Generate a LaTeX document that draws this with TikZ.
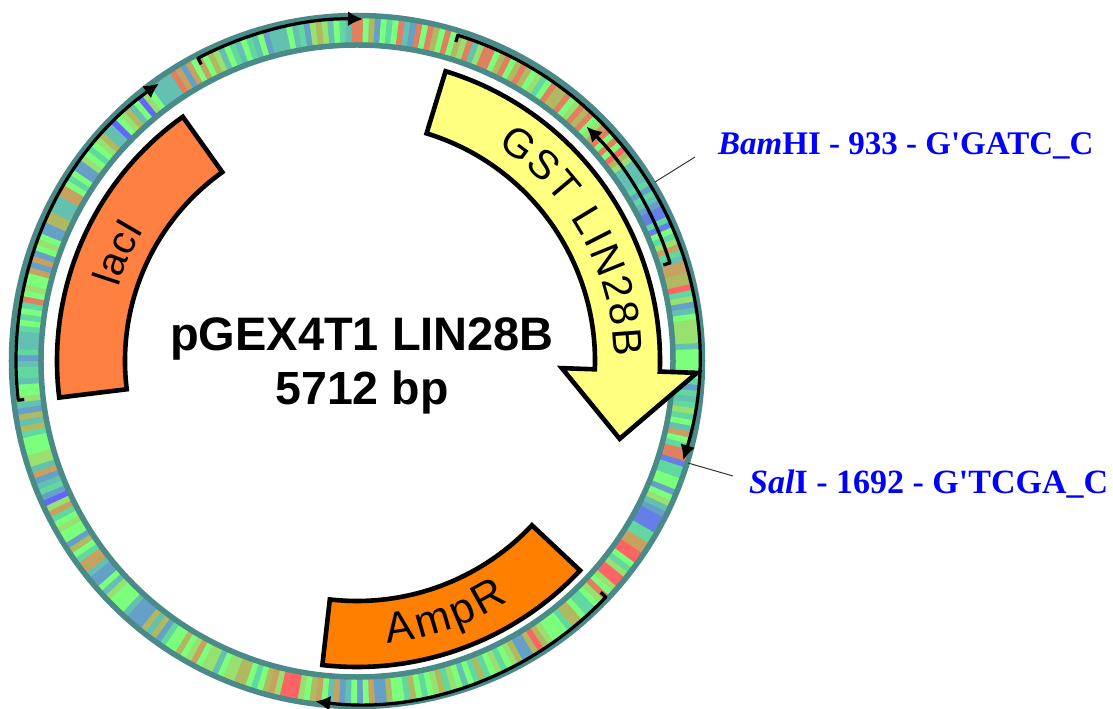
\documentclass[tikz,border=0pt]{standalone}
\usepackage{fontspec}
\setmainfont{Liberation Sans}
\newfontfamily\labelfont{Liberation Serif}
\usetikzlibrary{decorations.text,arrows.meta}
\definecolor{colg}{HTML}{7CFF7C}
\definecolor{colm}{HTML}{60D8A0}
\definecolor{colt}{HTML}{64C0B0}
\definecolor{coll}{HTML}{98E070}
\definecolor{colo}{HTML}{B0B860}
\definecolor{coln}{HTML}{C8A060}
\definecolor{colb}{HTML}{64A0C8}
\definecolor{colp}{HTML}{6480E8}
\definecolor{colv}{HTML}{6464FF}
\definecolor{colr}{HTML}{FF6464}
\definecolor{cols}{HTML}{E08060}
\definecolor{ringteal}{HTML}{4A8A88}
\definecolor{gstfill}{HTML}{FFFF80}
\definecolor{laci}{HTML}{FF8040}
\definecolor{ampr}{HTML}{FF8000}
\definecolor{siteblue}{HTML}{0000FF}
\newcommand\ringseg[2]{\foreach \sc [count=\ii from 0] in {#2}{%
  \pgfmathsetmacro\angA{#1-\ii}\pgfmathsetmacro\angB{#1-\ii-1.08}%
  \fill[col\sc] (\angA:315) -- (\angA:347) -- (\angB:347) -- (\angB:315) -- cycle;}}
\newcommand\featarc[4]{% radius, from, to, tail tick
  \draw[featline] (#2:#1) arc[start angle=#2,end angle=#3,radius=#1];
  \draw[tailtick] (#2:#1+1) -- (#2:#1-#4);}
\tikzset{
  x=1pt,y=1pt,
  ringedge/.style={draw=ringteal,line width=5.5pt},
  gene/.style={draw=black,line width=4.6pt,line join=miter,miter limit=4},
  featline/.style={black,line width=3.2pt,-{Latex[length=15pt,width=15pt]}},
  tailtick/.style={black,line width=3.2pt},
  leader/.style={black!80,line width=1pt},
  site/.style={anchor=base west,inner sep=0pt,text=siteblue,font=\labelfont\bfseries\fontsize{33}{33}\selectfont},
  sitewide/.style={site,font=\labelfont\bfseries\fontsize{34}{34}\selectfont},
  title/.style={anchor=base,inner sep=0pt,font=\bfseries\fontsize{46.5}{46.5}\selectfont},
  titlewide/.style={title,font=\bfseries\fontsize{47}{47}\selectfont},
}
\begin{document}
\begin{tikzpicture}
\useasboundingbox (-357,-348) rectangle (756,361);
\fill[colm] (0,0) circle[radius=347];
\fill[white] (0,0) circle[radius=315];
\ringseg{90}{s,g,o,b,g,m,g,s,t,b,s,g,s,o,g,s,g,o}
\ringseg{73}{o,l,s,t,l,s,s,g,o,s,g,o,s,o,g,l,m,g,s,o,o,s,g,l,s,o,s,g}
\ringseg{45}{l,n,s,g,s,g,r,o,l,t,t,t,t,m,b,m,t,b,p,p,m,p,g,m,l,n,m,t,n,n,o,o,r,m,l,b,t,g,l,l,l,l,t,g,g}
\ringseg{0}{g,g,g,m,b,m,t,m,l,m,g,t,n,g,m,s}
\ringseg{-16}{s,p,m,m,g,g,b,g,l,t,b,p,p,p,m,m,n,n,r,r,g,m,l,r,r,l,g,s}
\ringseg{-43}{s,l,g,m,m,g,o,o,m,g,g,g,l,o,r,o,b,b,o,l,g,m,l,g,m,o,m,g,t,g,l,m,o,l,g,m,g,o,m,g,g,o,b,b,n,g,b,g,t,b,n,t,g,n,o,g,l,r}
\ringseg{-100}{r,r,r,l,n,o,g,m,g,o,o,l,l,g,t,l,l,g,n,l,g,o,g,g,m,b,o,t,o,b,b,b,t,g,g,g,l,t,g,b,b,t,n,n,m,g,o,b,g,g,l,g,m,n,l,v,b,m,t,b,n,t,l,l,g,g,g,m,o,t,o,b,t,l,g,m}
\ringseg{185}{g,t,m,m,t,b,m,t,t,t,m,g,m,g,m,s,g,l,g,g,n,b,n,b,g,l,g,b,b,o,o,t,t,t,n,n,g,m,g,b,b,l,g,m,g,l,o,t,t,v,g,l,o,t,g,v,l,g}
\ringseg{127}{t,t,t,t,s,n,b,n,g,n,g,o,l,t,g,m,t,g,m,t,g,b,t,t,t,g,t,m,b,l,o,l,t,g,m,t,s}
\draw[ringedge] (0,0) circle[radius=345.5];
\draw[ringedge] (0,0) circle[radius=316];
% restriction sites
\coordinate (bamsite) at (298,179);
\coordinate (bamend) at (338,204);
\coordinate (salsite) at (331,-102);
\coordinate (salend) at (376,-115);
\draw[leader] (bamsite) -- (bamend);
\draw[leader] (salsite) -- (salend);
\node[site] (bamlabel) at (361,206) {\textit{Bam}HI - 933 - G'GATC\_C};
\node[sitewide] (sallabel) at (392,-132) {\textit{Sal}I - 1692 - G'TCGA\_C};
% features
\featarc{341}{186.6}{125.5}{6}
\featarc{342}{117.7}{89}{7}
\featarc{328}{17.4}{45.6}{7}
\featarc{341}{72.8}{-16.9}{7}
\featarc{343}{-43.5}{-97}{7}
% genes
\draw[gene,fill=gstfill] (73:238) arc[start angle=73,end angle=-2,radius=238] -- (-2:205) -- (-16.5:274) -- (-2:340) -- (-2:303) arc[start angle=-2,end angle=73,radius=303] -- cycle;
\draw[gene,fill=laci] (125.5:232) arc[start angle=125.5,end angle=187,radius=232] -- (187:300) arc[start angle=187,end angle=125.5,radius=300] -- cycle;
\draw[gene,fill=ampr] (-43.2:240) arc[start angle=-43.2,end angle=-96.5,radius=240] -- (-96.5:306) arc[start angle=-96.5,end angle=-43.2,radius=306] -- cycle;
\path[decorate,decoration={text along path,text align={fit to path},text={|\fontsize{41}{41}\selectfont|GST LIN28B}}] (57:257) arc[start angle=57,end angle=1,radius=257];
\path[decorate,decoration={text along path,text align={fit to path},text={|\fontsize{40}{40}\selectfont|lacI}}] (162.8:250) arc[start angle=162.8,end angle=148.5,radius=250];
\path[decorate,decoration={text along path,text align={fit to path},text={|\fontsize{43}{43}\selectfont|AmpR}}] (-83.9:284) arc[start angle=-83.9,end angle=-57.7,radius=284];
\node[titlewide] (plasmidname) at (5,10) {pGEX4T1 LIN28B};
\node[title] (plasmidsize) at (5,-43) {5712 bp};
\end{tikzpicture}
\end{document}
